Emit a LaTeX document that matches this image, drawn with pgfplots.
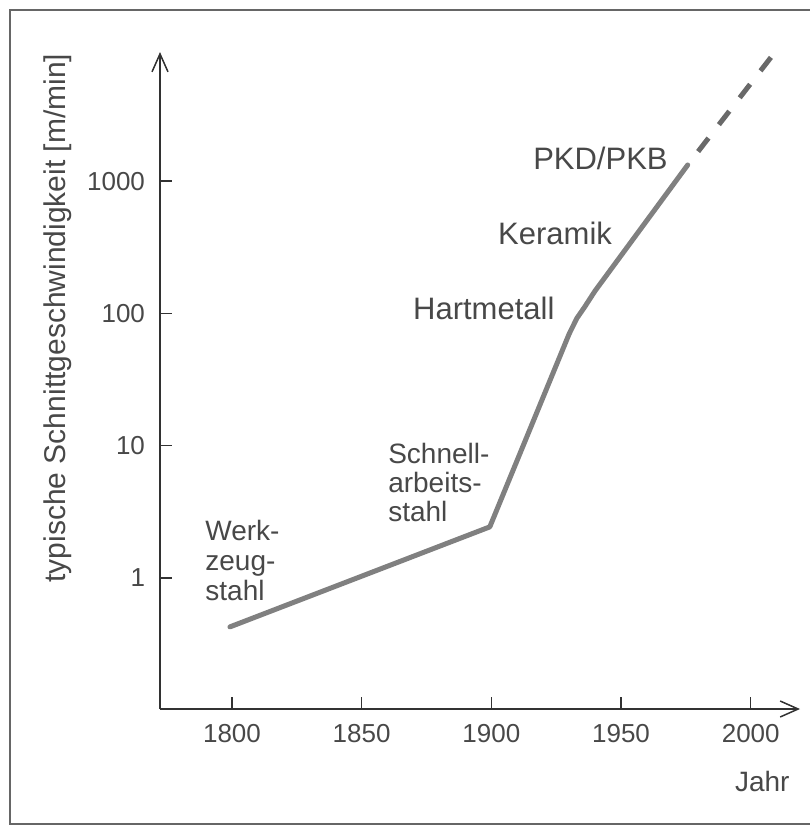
\documentclass[border=0pt]{standalone}
\usepackage{fontspec}
\setmainfont{Liberation Sans}
\usepackage{pgfplots}
\pgfplotsset{compat=1.18}
\usetikzlibrary{arrows.meta}
\definecolor{txt}{RGB}{72,72,72}
\definecolor{ln}{RGB}{128,128,128}
\definecolor{lnd}{RGB}{105,105,105}
\definecolor{ax}{RGB}{50,50,50}
\begin{document}
\begin{tikzpicture}
\useasboundingbox (0,0) rectangle (405bp,-414bp);
\draw[color=black!60, line width=1bp] (405bp,-5bp) -- (5bp,-5bp) -- (5bp,-412bp) -- (405bp,-412bp);
\begin{axis}[
  at={(80bp,-354.5bp)}, anchor=south west,
  scale only axis, width=320bp, height=328.5bp,
  ymode=log, xmin=1772.25, xmax=2019, ymin=0.102, ymax=9460,
  axis lines=left,
  axis line style={draw=ax, line width=0.75bp},
  every outer x axis line/.append style={-{Straight Barb[length=9bp,width=8bp]}},
  every outer y axis line/.append style={-{Straight Barb[length=9bp,width=8bp]}},
  xtick={1800,1850,1900,1950,2000},
  xticklabels={1800,1850,1900,1950,2000},
  ytick={1,10,100,1000},
  yticklabels={1,10,100,1000},
  minor tick style={draw=none},
  tick align=inside,
  major tick length=6bp,
  tick style={draw=ax, line width=0.7bp},
  ticklabel style={font=\fontsize{13bp}{15bp}\selectfont, text=txt},
  xticklabel style={yshift=-4bp},
  yticklabel style={xshift=-4bp},
  /pgf/number format/assume math mode=true,
  xlabel={Jahr},
  ylabel={typische Schnittgeschwindigkeit [m/min]},
  every axis x label/.style={at={(rel axis cs:0.941,0)}, yshift=-36bp, anchor=center, font=\fontsize{14bp}{16bp}\selectfont, text=txt},
  every axis y label/.style={at={(rel axis cs:0,0.595)}, xshift=-51bp, rotate=90, anchor=center, font=\fontsize{15bp}{17bp}\selectfont, text=txt},
  clip=false,
]
\addplot[ln, line width=2.5bp, line join=round, line cap=round] coordinates {
  (1799.2,0.426) (1899.4,2.43) (1930.0,70) (1933.0,92) (1936.0,112) (1940.0,148) (1975.7,1324)
};
\addplot[lnd, line width=2.5bp, dash pattern=on 8.5bp off 8.5bp, dash phase=8.5bp] coordinates {
  (1975.7,1324) (2008.5,8980)
};
\node[anchor=north west, inner sep=0, align=left, text=txt, font=\fontsize{14bp}{15bp}\selectfont] at (axis cs:1789.6,2.74) {Werk-\\zeug-\\stahl};
\node[anchor=north west, inner sep=0, align=left, text=txt, font=\fontsize{14bp}{14.5bp}\selectfont] at (axis cs:1860.1,10.5) {Schnell-\\arbeits-\\stahl};
\node[anchor=north west, inner sep=0, text=txt, font=\fontsize{15.5bp}{17bp}\selectfont] at (axis cs:1869.7,133) {Hartmetall};
\node[anchor=north west, inner sep=0, text=txt, font=\fontsize{15.5bp}{17bp}\selectfont] at (axis cs:1902.5,491) {Keramik};
\node[anchor=north west, inner sep=0, text=txt, font=\fontsize{15.5bp}{17bp}\selectfont] at (axis cs:1916,1811) {PKD/PKB};
\end{axis}
\end{tikzpicture}
\end{document}
